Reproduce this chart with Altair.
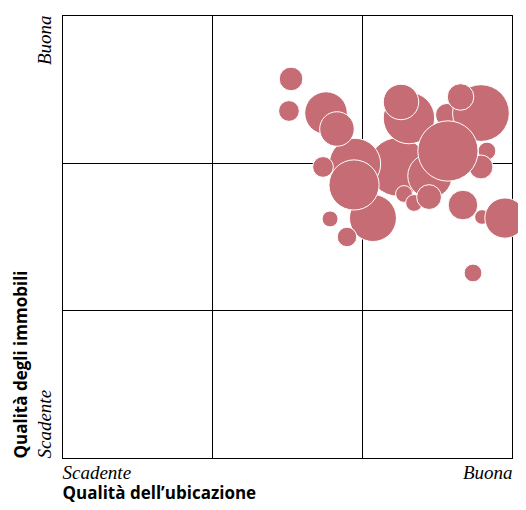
import altair as alt
import pandas as pd

# Bubble data (quality of location, quality of buildings, size), in drawing order
ubicazione = [2.240, 2.073, 1.953, 1.760, 1.833, 1.740, 1.947, 1.787, 1.900, 1.527,
              1.513, 2.567, 2.833, 2.793, 2.313, 2.260, 2.657, 2.793, 2.453, 2.280,
              2.347, 2.447, 2.573, 2.673, 2.800, 2.953, 2.740]
immobili = [1.971, 1.625, 1.991, 2.336, 2.228, 1.971, 1.849, 1.619, 1.497, 2.567,
            2.350, 2.323, 2.079, 2.336, 2.302, 2.411, 2.445, 1.971, 1.910, 1.788,
            1.727, 1.767, 2.079, 1.713, 1.632, 1.625, 1.253]
dimensione = [108.9, 70.2, 84.1, 57.6, 38.0, 13.7, 80.1, 8.1, 12.1, 17.7,
              13.7, 16.9, 10.0, 102.4, 84.1, 40.0, 22.5, 18.2, 62.5, 9.0,
              9.0, 19.6, 115.6, 27.9, 6.9, 51.5, 10.0]

tick_values = [0, 1, 2, 3]
label_low = "Scadente"
label_high = "Buona"

df = pd.DataFrame({
    "ubicazione": ubicazione,
    "immobili": immobili,
    "dimensione": dimensione,
    "ordine": list(range(len(ubicazione))),
})

label_expr = f"datum.value == 0 ? '{label_low}' : (datum.value == 3 ? '{label_high}' : '')"

chart = alt.Chart(df).mark_circle(
    color="#c56c74", opacity=1, stroke="white", strokeWidth=1
).encode(
    x=alt.X(
        "ubicazione:Q",
        scale=alt.Scale(domain=[0, 3], nice=False, zero=False),
        axis=alt.Axis(
            values=tick_values, grid=True, gridColor="black", gridWidth=1, gridOpacity=1,
            ticks=False, domainColor="black", domainWidth=1,
            labelExpr=label_expr, labelFlush=True,
            labelFont="Liberation Serif", labelFontStyle="italic", labelFontSize=19,
            labelColor="black", labelPadding=5,
            title="Qualità dell’ubicazione", titleFont="Open Sans", titleFontSize=17,
            titleFontWeight="bold", titleColor="black",
            titleAlign="left", titleBaseline="alphabetic", titleX=0, titleY=40,
        ),
    ),
    y=alt.Y(
        "immobili:Q",
        scale=alt.Scale(domain=[0, 3], nice=False, zero=False),
        axis=alt.Axis(
            values=tick_values, grid=True, gridColor="black", gridWidth=1, gridOpacity=1,
            ticks=False, domainColor="black", domainWidth=1,
            labelExpr=label_expr, labelAngle=270,
            labelAlign={"expr": "datum.value == 0 ? 'left' : 'right'"},
            labelBaseline="alphabetic",
            labelFont="Liberation Serif", labelFontStyle="italic", labelFontSize=19,
            labelColor="black", labelPadding=12,
            title="Qualità degli immobili", titleFont="Open Sans", titleFontSize=17,
            titleFontWeight="bold", titleColor="black", titleAngle=270,
            titleAlign="left", titleBaseline="alphabetic", titleX=-36, titleY=443,
        ),
    ),
    size=alt.Size("dimensione:Q", scale=alt.Scale(domain=[0, 100], range=[0, 3141.6]),
                  legend=None),
    order=alt.Order("ordine:Q"),
).properties(
    width=450,
    height=443,
    autosize=alt.AutoSizeParams(type="none"),
    padding={"left": 54, "top": 7, "right": 6, "bottom": 44},
).configure_view(stroke="black", strokeWidth=1)

chart.save("out.html", embed_options={"renderer": "svg", "actions": False})
